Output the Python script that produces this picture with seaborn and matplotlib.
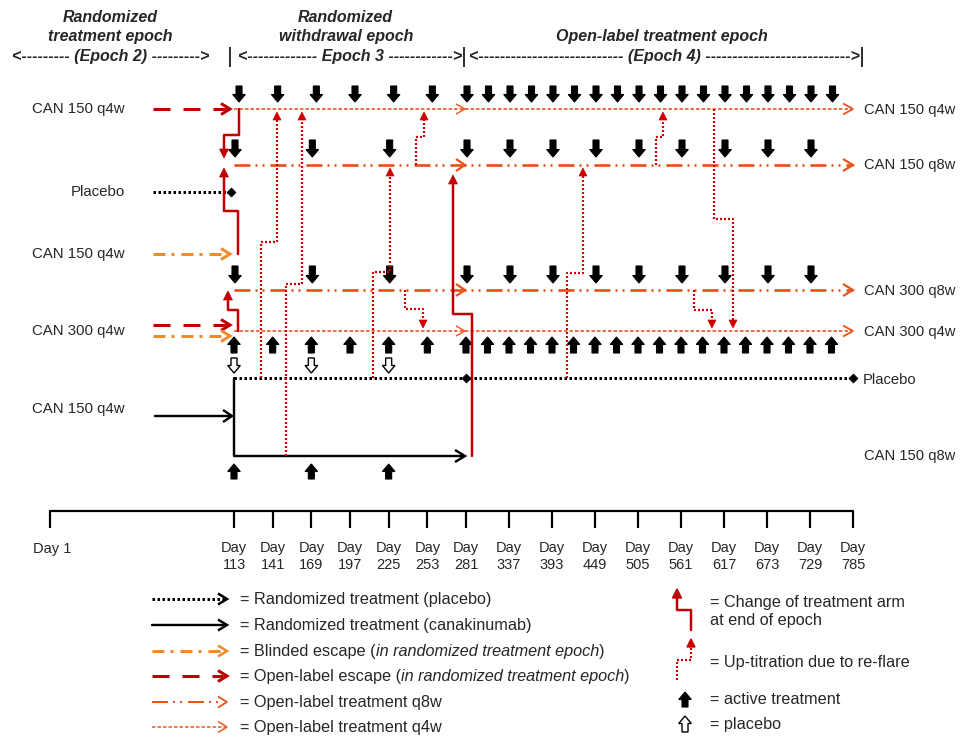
import numpy as np
import matplotlib
matplotlib.use("Agg")
import matplotlib.pyplot as plt
from matplotlib.patches import Polygon
import seaborn as sns

# ---- data ---------------------------------------------------------------
tick_days = [1, 113, 141, 169, 197, 225, 253, 281, 337, 393, 449, 505, 561, 617, 673, 729, 785]
q4w_days_ep3 = [113, 141, 169, 197, 225, 253]
q4w_days_ep4 = [281, 309, 337, 365, 393, 421, 449, 477, 505, 533, 561, 589, 617, 645, 673, 701, 729, 757]
q8w_days = [113, 169, 225, 281, 337, 393, 449, 505, 561, 617, 673, 729]
rand_days = [113, 169, 225]

left_labels = ["CAN 150 q4w", "Placebo", "CAN 150 q4w", "CAN 300 q4w", "CAN 150 q4w"]
right_labels = ["CAN 150 q4w", "CAN 150 q8w", "CAN 300 q8w", "CAN 300 q4w", "Placebo", "CAN 150 q8w"]

# up-titration due to re-flare: (day of 1st leg, day of 2nd leg, from row, step height, to row)
titrations = [
    (132.5, 144.1, "pbo", 242, "q4w150"),
    (150.7, 162.2, "can", 284, "q4w150"),
    (244.8, 250.6, "q8w150", 137, "q4w150"),
    (213.7, 226.0, "pbo", 272, "q8w150"),
    (236.8, 249.9, "q8w300", 309, "q4w300"),
    (528.4, 537.5, "q8w150", 137, "q4w150"),
    (603.9, 628.7, "q4w150", 219, "q4w300"),
    (412.5, 433.3, "pbo", 273, "q8w150"),
    (577.9, 601.3, "q8w300", 310, "q4w300"),
]
# change of treatment arm at end of epoch: (day 1st leg, day 2nd leg, from row, step height, to row, gap)
changes = [
    (116.6, 106.9, "q4w150", 135, "q8w150", 7),
    (116.0, 106.9, "blind", 211, "q8w150", 3),
    (116.0, 109.3, "q4w300", 310, "q8w300", 1),
    (288.8, 271.6, "can", 314, "q8w150", 10),
]

# ---- layout -------------------------------------------------------------
ROW = dict(q4w150=109, q8w150=165, pbo_in=192, blind=254, q8w300=290,
           q4w300=331, pbo=378, can_in=416, can=456)
LEFT_Y = [109, 192, 254, 331, 409]
RIGHT_Y = [110, 165, 291, 332, 380, 456]

C_Q4 = "#EE5C2C"
C_Q8 = "#E8531C"
C_BLIND = "#F08A2E"
C_RED = "#C00000"
C_TIT = "#CC0000"

PT = 0.72  # points per pixel at 100 dpi


def xpos(day):
    return np.interp(day, [1, 113, 281, 785], [50, 234, 466, 853])


def dash(*px):
    return (0, tuple(p * PT for p in px))


sns.set_theme(style="white")
plt.rcParams["font.family"] = ["Liberation Sans", "DejaVu Sans"]
plt.rcParams["lines.scale_dashes"] = False

fig = plt.figure(figsize=(9.6, 7.38), dpi=100)
ax = fig.add_axes([0, 0, 1, 1])
ax.set_xlim(0, 960)
ax.set_ylim(738, 0)
ax.axis("off")


def chevron(x, y, color, lw, L=10, H=5.5):
    ax.plot([x - L, x, x - L], [y - H, y, y + H], color=color, lw=lw * PT,
            solid_joinstyle="miter", solid_capstyle="butt")


def block_arrow(x, y0, y1, filled=True):
    # arrow from y0 (tail) to y1 (tip)
    sw, hw, hl = 3.0, 6.3, 7.5
    s = 1 if y1 > y0 else -1
    yb = y1 - s * hl
    pts = [(x - sw, y0), (x + sw, y0), (x + sw, yb), (x + hw, yb), (x, y1),
           (x - hw, yb), (x - sw, yb)]
    ax.add_patch(Polygon(pts, closed=True, facecolor="black" if filled else "white",
                         edgecolor="black", lw=0.8 if filled else 1.0, joinstyle="miter"))


def step(d1, d2, y1, ym, y2, gap, color, lw, ls, hl=8, hw=4):
    x1, x2 = xpos(d1), xpos(d2)
    s = 1 if y2 > y1 else -1
    tip = y2 - s * gap
    base = tip - s * hl
    ax.plot([x1, x1, x2, x2], [y1, ym, ym, base], color=color, lw=lw * PT, ls=ls)
    ax.add_patch(Polygon([(x2 - hw, base), (x2 + hw, base), (x2, tip)], closed=True,
                         facecolor=color, edgecolor=color, lw=0.5))


q4_ls = dash(3.5, 2)
q8_ls = dash(16, 5, 2, 5, 2, 6)
bl_ls = dash(12, 6, 3, 7)
ol_ls = dash(17, 13)
pb_ls = dash(2.5, 2.5)
tt_ls = dash(2, 2)

# ---- header -------------------------------------------------------------
hdr = dict(fontsize=11.5, fontweight="bold", fontstyle="italic", ha="center", va="center")
ax.text(110, 17, "Randomized", **hdr)
ax.text(110, 36, "treatment epoch", **hdr)
ax.text(111, 57, "<--------- (Epoch 2) --------->", **hdr)
ax.text(345, 17, "Randomized", **hdr)
ax.text(346, 36, "withdrawal epoch", **hdr)
ax.text(350, 57, "<------------- Epoch 3 ------------>", **hdr)
ax.text(662, 36, "Open-label treatment epoch", **hdr)
ax.text(664, 57, "<--------------------------- (Epoch 4) --------------------------->", **hdr)
ax.vlines([230, 464, 862], 47, 67, color="black", lw=1.6 * PT)

# ---- left side labels / incoming arrows --------------------------------
for lab, y in zip(left_labels, LEFT_Y):
    ax.text(125, y, lab, fontsize=10.8, ha="right", va="center")

ax.plot([153, 228], [ROW["q4w150"]] * 2, color=C_RED, lw=3 * PT, ls=ol_ls)
chevron(230, ROW["q4w150"], C_RED, 3, L=9, H=5.5)
ax.plot([153, 229], [ROW["pbo_in"]] * 2, color="black", lw=3 * PT, ls=pb_ls)
ax.plot([153, 228], [ROW["blind"]] * 2, color=C_BLIND, lw=3 * PT, ls=bl_ls)
chevron(230, ROW["blind"], C_BLIND, 3, L=9, H=5.5)
ax.plot([153, 228], [325, 325], color=C_RED, lw=3 * PT, ls=ol_ls)
chevron(230, 325, C_RED, 3, L=9, H=5.5)
ax.plot([153, 228], [336, 336], color=C_BLIND, lw=3 * PT, ls=bl_ls)
chevron(230, 336, C_BLIND, 3, L=9, H=5.5)
ax.plot([155, 231], [ROW["can_in"]] * 2, color="black", lw=2.4 * PT)
chevron(232, ROW["can_in"], "black", 2.4, L=9, H=6)

# ---- treatment rows -----------------------------------------------------
x0, xm, xe = xpos(113), xpos(281) - 1, xpos(785)
for key in ["q4w150", "q4w300"]:
    ax.plot([x0, xe], [ROW[key]] * 2, color=C_Q4, lw=1.7 * PT, ls=q4_ls)
    chevron(xm, ROW[key], C_Q4, 1.5, L=9, H=5)
    chevron(xe, ROW[key], C_Q4, 2.0, L=10, H=5.5)
for key in ["q8w150", "q8w300"]:
    ax.plot([x0, xe], [ROW[key]] * 2, color=C_Q8, lw=2.7 * PT, ls=q8_ls)
    chevron(xm, ROW[key], C_Q8, 2.2, L=9, H=6)
    chevron(xe, ROW[key], C_Q8, 2.2, L=10, H=6)

# placebo (randomized) row and canakinumab row
ax.plot([x0, xe], [ROW["pbo"]] * 2, color="black", lw=3 * PT, ls=pb_ls)
sns.scatterplot(x=[xpos(281), xe, 231], y=[ROW["pbo"], ROW["pbo"], ROW["pbo_in"]],
                marker="D", s=22, color="black", edgecolor="black", ax=ax, zorder=5)
ax.plot([x0, x0, xpos(281) - 3], [ROW["pbo"], ROW["can"], ROW["can"]], color="black", lw=2.4 * PT)
chevron(xpos(281) - 1, ROW["can"], "black", 2.4, L=10, H=6)

for lab, y in zip(right_labels, RIGHT_Y):
    ax.text(864 if lab != "Placebo" else 863, y, lab, fontsize=10.6, ha="left", va="center")

# ---- dosing arrows ------------------------------------------------------
for d in q4w_days_ep3:
    block_arrow(xpos(d) + 5, 86, 102)
for d in q4w_days_ep4:
    block_arrow(xpos(d) + 1, 86, 102)
for d in q8w_days:
    block_arrow(xpos(d) + 1, 140, 157)
    block_arrow(xpos(d) + 1, 266, 283)
for d in q4w_days_ep3 + q4w_days_ep4:
    block_arrow(xpos(d), 353, 337)
for d in rand_days:
    block_arrow(xpos(d), 358, 373, filled=False)
    block_arrow(xpos(d), 479, 464)

# ---- change of arm / up-titration --------------------------------------
for d1, d2, r1, ym, r2, gap in changes:
    step(d1, d2, ROW[r1], ym, ROW[r2], gap, C_RED, 2.5, "-", hl=9, hw=4.5)
for d1, d2, r1, ym, r2 in titrations:
    step(d1, d2, ROW[r1], ym, ROW[r2], 3, C_TIT, 2.2, tt_ls, hl=8, hw=4)

# ---- timeline -----------------------------------------------------------
sns.lineplot(x=[xpos(1), xpos(785)], y=[511, 511], color="black", lw=2.2 * PT, ax=ax)
ax.vlines([xpos(d) for d in tick_days], 511, 528, color="black", lw=2.2 * PT)
ax.text(xpos(1) + 2, 549, "Day 1", fontsize=10.5, ha="center", va="center")
for d in tick_days[1:]:
    ax.text(xpos(d), 548, "Day", fontsize=10.5, ha="center", va="center")
    ax.text(xpos(d), 565, str(d), fontsize=10.5, ha="center", va="center")

# ---- legend -------------------------------------------------------------
leg_y = [599, 625, 651, 676, 702, 727]
lx0, lx1 = 152, 227
ax.plot([lx0, lx1 - 2], [leg_y[0]] * 2, color="black", lw=3 * PT, ls=pb_ls)
chevron(lx1, leg_y[0], "black", 2.5, L=9, H=5.5)
ax.plot([lx0, lx1 - 2], [leg_y[1]] * 2, color="black", lw=2.4 * PT)
chevron(lx1, leg_y[1], "black", 2.4, L=9, H=5.5)
ax.plot([lx0, lx1 - 4], [leg_y[2]] * 2, color=C_BLIND, lw=3 * PT, ls=bl_ls)
chevron(lx1, leg_y[2], C_BLIND, 2.5, L=9, H=5.5)
ax.plot([lx0, lx1 - 4], [leg_y[3]] * 2, color=C_RED, lw=3 * PT, ls=ol_ls)
chevron(lx1, leg_y[3], C_RED, 3, L=9, H=5.5)
ax.plot([lx0, lx1 - 4], [leg_y[4]] * 2, color=C_Q8, lw=2.0 * PT, ls=q8_ls)
chevron(lx1, leg_y[4], C_Q8, 1.8, L=9, H=5.5)
ax.plot([lx0, lx1 - 2], [leg_y[5]] * 2, color=C_Q4, lw=1.6 * PT, ls=q4_ls)
chevron(lx1, leg_y[5], C_Q4, 1.6, L=9, H=5.5)

lt = dict(fontsize=11.7, va="bottom", ha="left")
legend_text = [
    ("= Randomized treatment (placebo)", None),
    ("= Randomized treatment (canakinumab)", None),
    ("= Blinded escape (", "in randomized treatment epoch"),
    ("= Open-label escape (", "in randomized treatment epoch"),
    ("= Open-label treatment q8w", None),
    ("= Open-label treatment q4w", None),
]
for (txt, ital), y in zip(legend_text, leg_y):
    t = ax.text(240, y + 8, txt, **lt)
    if ital:
        t2 = ax.annotate(ital, xy=(1, 0), xycoords=t, fontstyle="italic", **lt)
        ax.annotate(")", xy=(1, 0), xycoords=t2, **lt)

# right legend icons
ax.plot([691, 691, 677, 677], [630, 610, 610, 598], color=C_RED, lw=2.5 * PT)
ax.add_patch(Polygon([(672.5, 598), (681.5, 598), (677, 589)], facecolor=C_RED, edgecolor=C_RED))
ax.plot([677, 677, 691, 691], [680, 660, 660, 647], color=C_TIT, lw=2.2 * PT, ls=tt_ls)
ax.add_patch(Polygon([(687, 647), (695, 647), (691, 639)], facecolor=C_TIT, edgecolor=C_TIT))
block_arrow(685, 707, 692)
block_arrow(685, 732, 716, filled=False)
rt = dict(fontsize=11.7, ha="left", va="center")
ax.text(710, 602, "= Change of treatment arm", **rt)
ax.text(710, 621, "at end of epoch", **rt)
ax.text(710, 662, "= Up-titration due to re-flare", **rt)
ax.text(710, 699, "= active treatment", **rt)
ax.text(710, 724, "= placebo", **rt)

fig.savefig("out.png", dpi=100)
